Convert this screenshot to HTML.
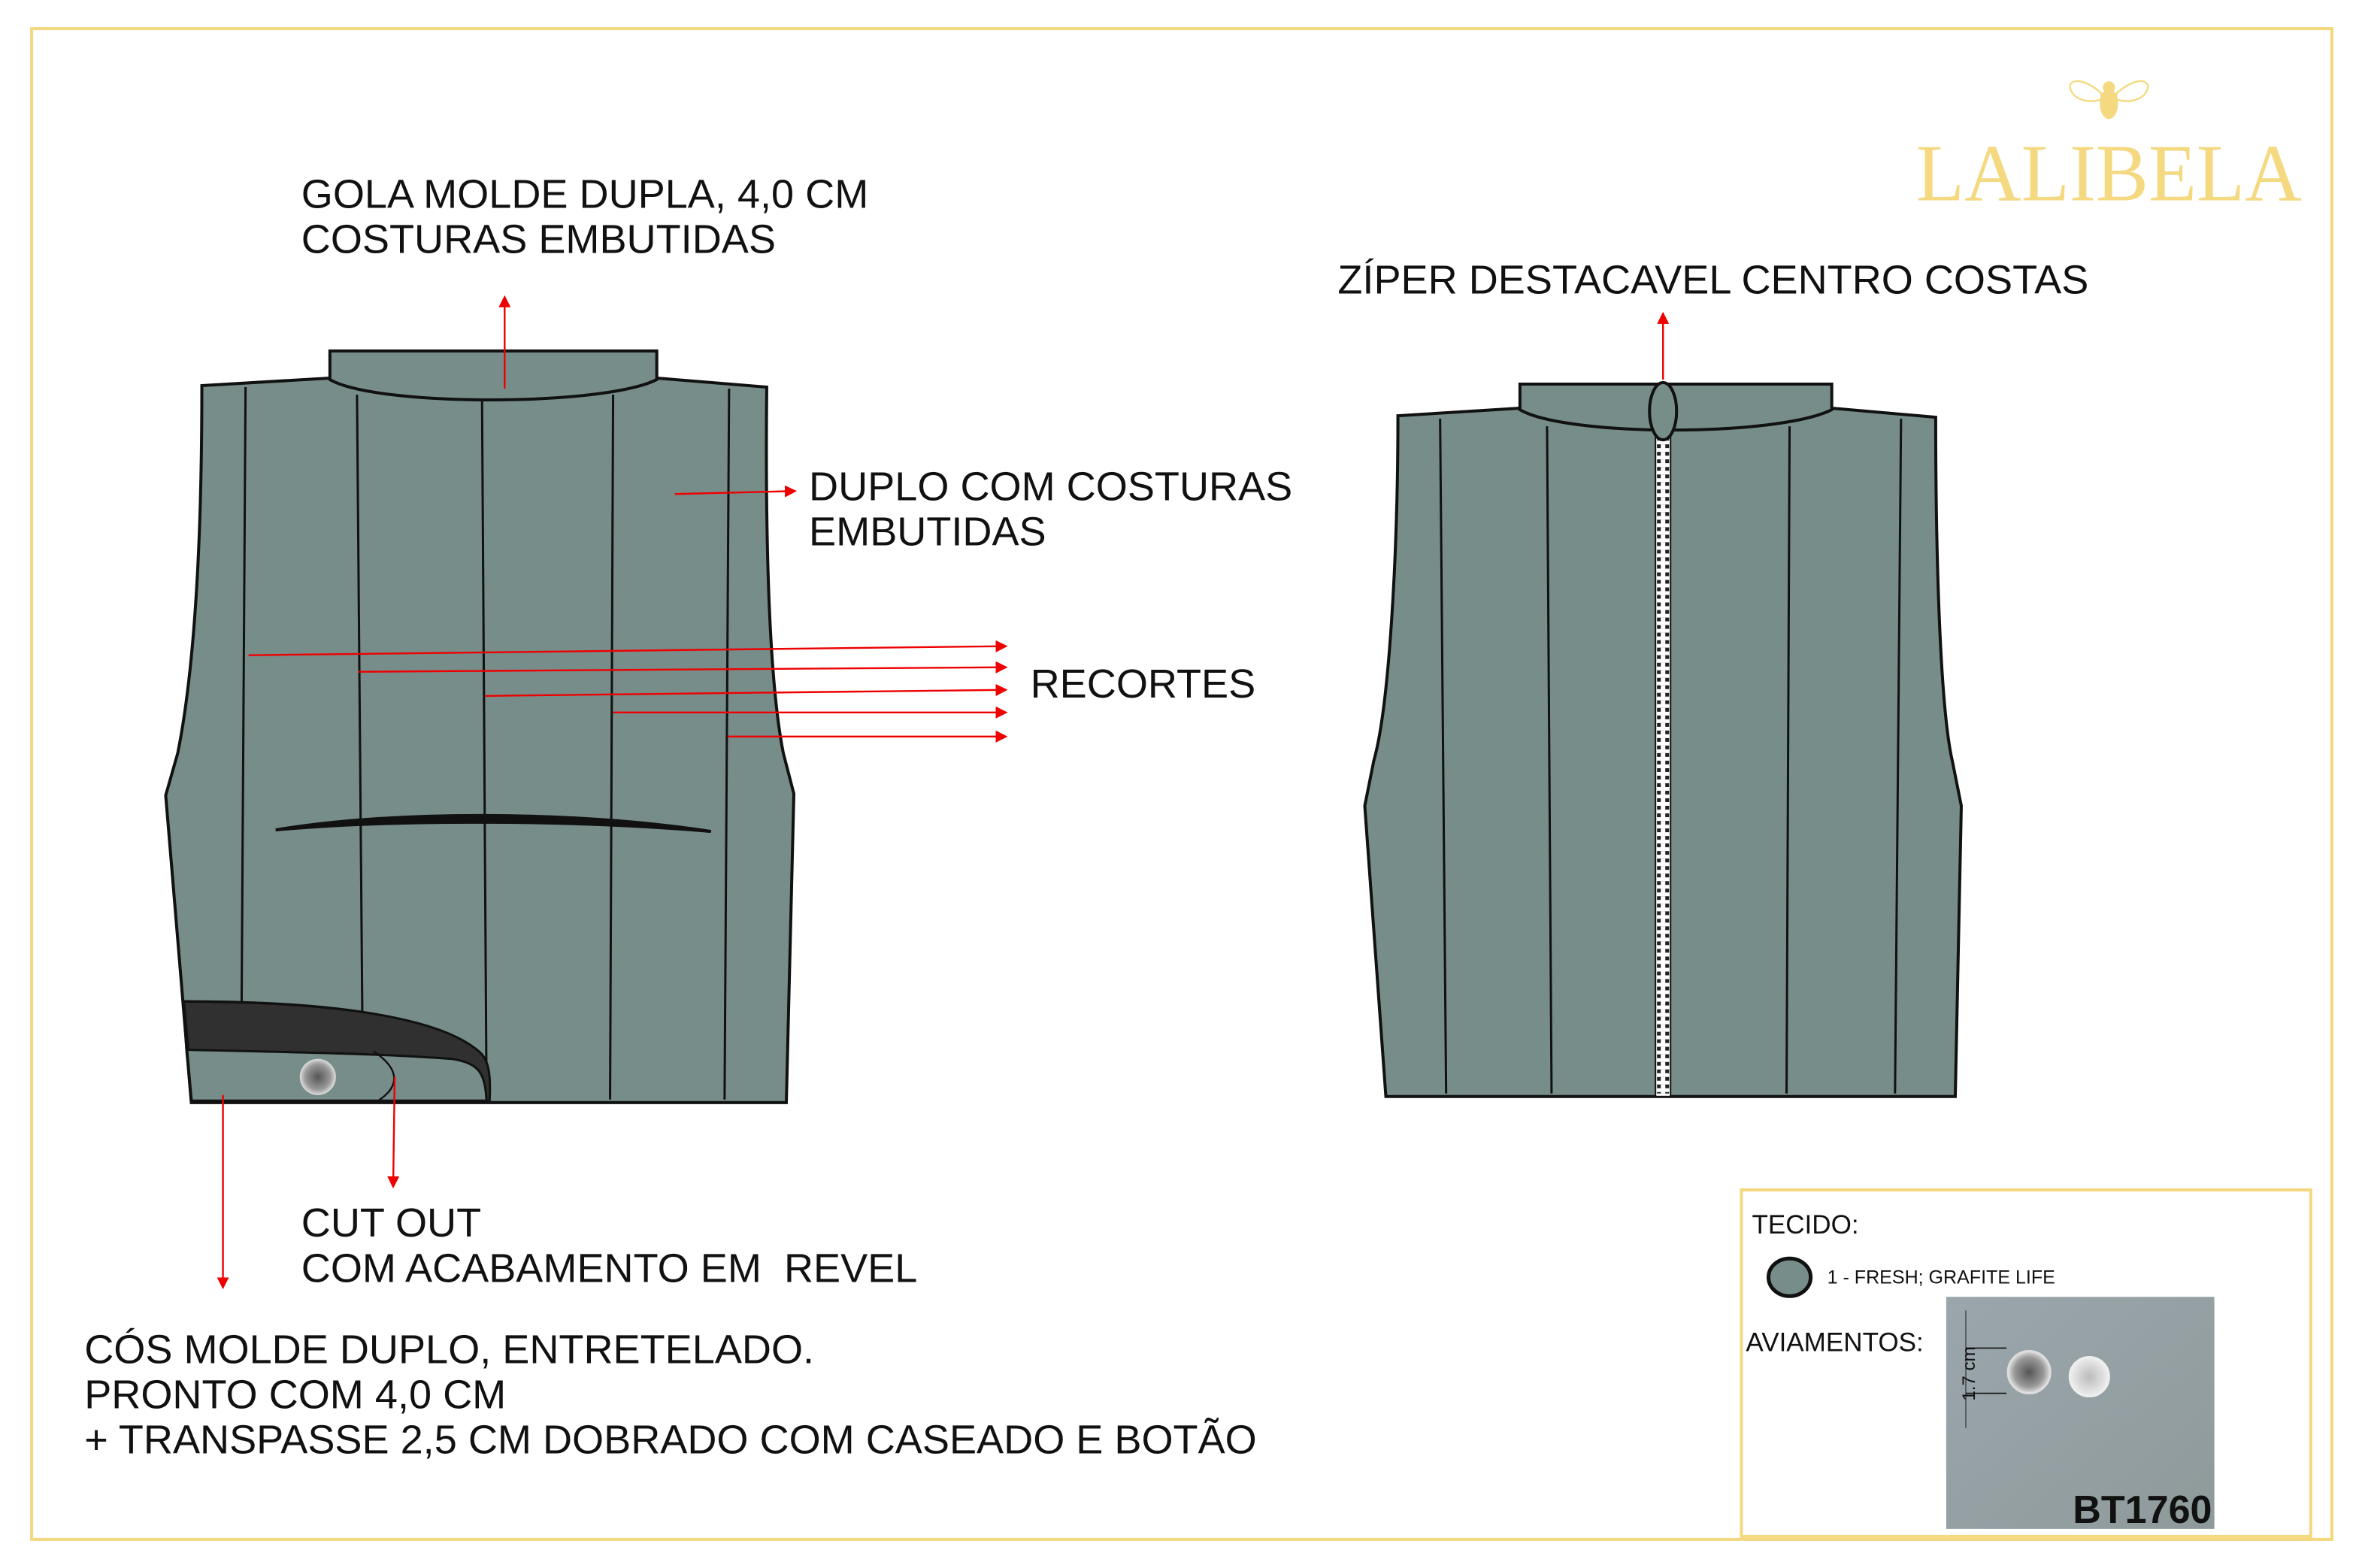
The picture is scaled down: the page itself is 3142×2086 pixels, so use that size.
<!DOCTYPE html>
<html><head><meta charset="utf-8"><style>
html,body{margin:0;padding:0;background:#fff;}
svg{display:block;}
text{font-family:"Liberation Sans",Arial,sans-serif;fill:#111;}
</style></head><body>
<svg width="3142" height="2086" viewBox="0 0 1568 1041" xmlns="http://www.w3.org/2000/svg">
<defs>
<marker id="ar" markerWidth="8" markerHeight="8" refX="7" refY="4" orient="auto" markerUnits="userSpaceOnUse"><path d="M0,0 L8,4 L0,8 z" fill="#e00"/></marker>
<linearGradient id="ph" x1="0" y1="0" x2="1" y2="1"><stop offset="0" stop-color="#9aa6ac"/><stop offset="1" stop-color="#8e9a9a"/></linearGradient>
<radialGradient id="bt"><stop offset="0" stop-color="#555"/><stop offset="0.7" stop-color="#999"/><stop offset="1" stop-color="#ddd"/></radialGradient>
<radialGradient id="bt2"><stop offset="0" stop-color="#bbb"/><stop offset="1" stop-color="#eee"/></radialGradient>
</defs>
<rect x="21" y="19" width="1527" height="1003" fill="none" stroke="#f4d77f" stroke-width="2"/>

<!-- logo -->
<g fill="#f4d980">
<ellipse cx="1400" cy="58" rx="4" ry="4"/>
<ellipse cx="1400" cy="69" rx="6" ry="10"/>
<path d="M1395,62 C1386,54 1376,51 1374,57 C1375,66 1386,69 1395,66 z" fill="none" stroke="#f4d980" stroke-width="1.2"/>
<path d="M1405,62 C1414,54 1424,51 1426,57 C1425,66 1414,69 1405,66 z" fill="none" stroke="#f4d980" stroke-width="1.2"/>
</g>
<text x="1272" y="133" textLength="256" lengthAdjust="spacingAndGlyphs" style="font-family:'Liberation Serif',serif;font-size:54px;fill:#f4d980">LALIBELA</text>

<!-- texts -->
<g style="font-size:27px">
<text x="200" y="138">GOLA MOLDE DUPLA, 4,0 CM</text>
<text x="200" y="168">COSTURAS EMBUTIDAS</text>
<text x="537" y="332">DUPLO COM COSTURAS</text>
<text x="537" y="362">EMBUTIDAS</text>
<text x="684" y="463">RECORTES</text>
<text x="888" y="195">ZÍPER DESTACAVEL CENTRO COSTAS</text>
<text x="200" y="821">CUT OUT</text>
<text x="200" y="851" xml:space="preserve">COM ACABAMENTO EM  REVEL</text>
<text x="56" y="905">CÓS MOLDE DUPLO, ENTRETELADO.</text>
<text x="56" y="935">PRONTO COM 4,0 CM</text>
<text x="56" y="965">+ TRANSPASSE 2,5 CM DOBRADO COM CASEADO E BOTÃO</text>
</g>

<!-- left vest -->
<g stroke="#111" stroke-width="2" fill="#778d8a">
<path d="M134,256 L219,251 L436,251 L509,257 C508,350 510,450 520,500 L527,527 L522,732 L127,732 L110,528 L118,500 C130,440 134,350 134,256 z"/>
<path d="M219,233 L436,233 L436,252 C400,270 250,270 219,252 z"/>
</g>
<g stroke="#111" stroke-width="1.5" fill="none">
<path d="M163,257 L160,730"/><path d="M237,262 L241,730"/><path d="M320,265 L323,730"/><path d="M407,262 L405,730"/><path d="M484,258 L481,730"/>
</g>
<path d="M183,551 C260,538 380,538 472,552 C380,544 260,544 183,551 z" fill="#111" stroke="#111" stroke-width="2"/>
<path d="M122,665 C220,665 300,675 322,705 L324,731 L127,731 L124,697 z" fill="#778d8a" stroke="#111" stroke-width="2"/>
<path d="M122,665 C220,665 295,675 320,700 C324,705 326,712 325,731 L323,731 C322,712 318,706 300,703 C260,700 220,699 125,697 z" fill="#303030" stroke="#111" stroke-width="1.5"/>
<path d="M248,698 C266,710 266,722 249,732" fill="none" stroke="#111" stroke-width="1.2"/>
<circle cx="211" cy="715" r="12" fill="url(#bt)"/>

<!-- right vest -->
<g stroke="#111" stroke-width="2" fill="#778d8a">
<path d="M928,276 L1009,271 L1216,271 L1285,277 C1285,370 1288,470 1296,505 L1302,535 L1298,728 L920,728 L906,535 L912,505 C922,470 928,370 928,276 z"/>
<path d="M1009,255 L1216,255 L1216,272 C1180,290 1040,290 1009,272 z"/>
</g>
<g stroke="#111" stroke-width="1.5" fill="none">
<path d="M956,278 L960,726"/><path d="M1027,283 L1030,726"/><path d="M1188,283 L1186,726"/><path d="M1262,278 L1258,726"/>
</g>
<rect x="1099" y="288" width="10" height="440" fill="#fff" stroke="#111" stroke-width="1"/>
<line x1="1104" y1="290" x2="1104" y2="726" stroke="#222" stroke-width="8" stroke-dasharray="2.5 2.5"/>
<line x1="1104" y1="290" x2="1104" y2="726" stroke="#fff" stroke-width="3" stroke-dasharray="3 2"/>
<ellipse cx="1104" cy="273" rx="9" ry="19" fill="#778d8a" stroke="#111" stroke-width="2"/>

<!-- red arrows -->
<g stroke="#e00" stroke-width="1.2" marker-end="url(#ar)">
<line x1="335" y1="258" x2="335" y2="197"/>
<line x1="448" y1="328" x2="528" y2="326"/>
<line x1="165" y1="435" x2="668" y2="429"/>
<line x1="238" y1="446" x2="668" y2="443"/>
<line x1="322" y1="462" x2="668" y2="458"/>
<line x1="407" y1="473" x2="668" y2="473"/>
<line x1="483" y1="489" x2="668" y2="489"/>
<line x1="148" y1="727" x2="148" y2="855"/>
<line x1="262" y1="715" x2="261" y2="788"/>
<line x1="1104" y1="252" x2="1104" y2="208"/>
</g>

<!-- info box -->
<rect x="1156" y="790" width="378" height="230" fill="none" stroke="#f4d77f" stroke-width="2"/>
<text x="1163" y="819" style="font-size:17.5px">TECIDO:</text>
<ellipse cx="1188" cy="848" rx="14" ry="12.5" fill="#778d8a" stroke="#111" stroke-width="2.5"/>
<text x="1213" y="852" style="font-size:12.5px">1 - FRESH; GRAFITE LIFE</text>
<text x="1159" y="897" style="font-size:17.5px">AVIAMENTOS:</text>
<rect x="1292" y="861" width="178" height="154" fill="url(#ph)"/>
<line x1="1305" y1="870" x2="1305" y2="948" stroke="#333" stroke-width="0.6"/>
<line x1="1305" y1="895" x2="1332" y2="895" stroke="#111" stroke-width="0.8"/>
<line x1="1305" y1="925" x2="1332" y2="925" stroke="#111" stroke-width="0.8"/>
<text transform="translate(1311,930) rotate(-90)" style="font-size:12px">1.7 cm</text>
<circle cx="1347" cy="911" r="14" fill="url(#bt)" stroke="#ddd" stroke-width="1.5"/>
<circle cx="1387" cy="914" r="13" fill="url(#bt2)" stroke="#eee" stroke-width="1.5"/>
<text x="1376" y="1011" style="font-size:26px;font-weight:bold">BT1760</text>
</svg>
</body></html>
